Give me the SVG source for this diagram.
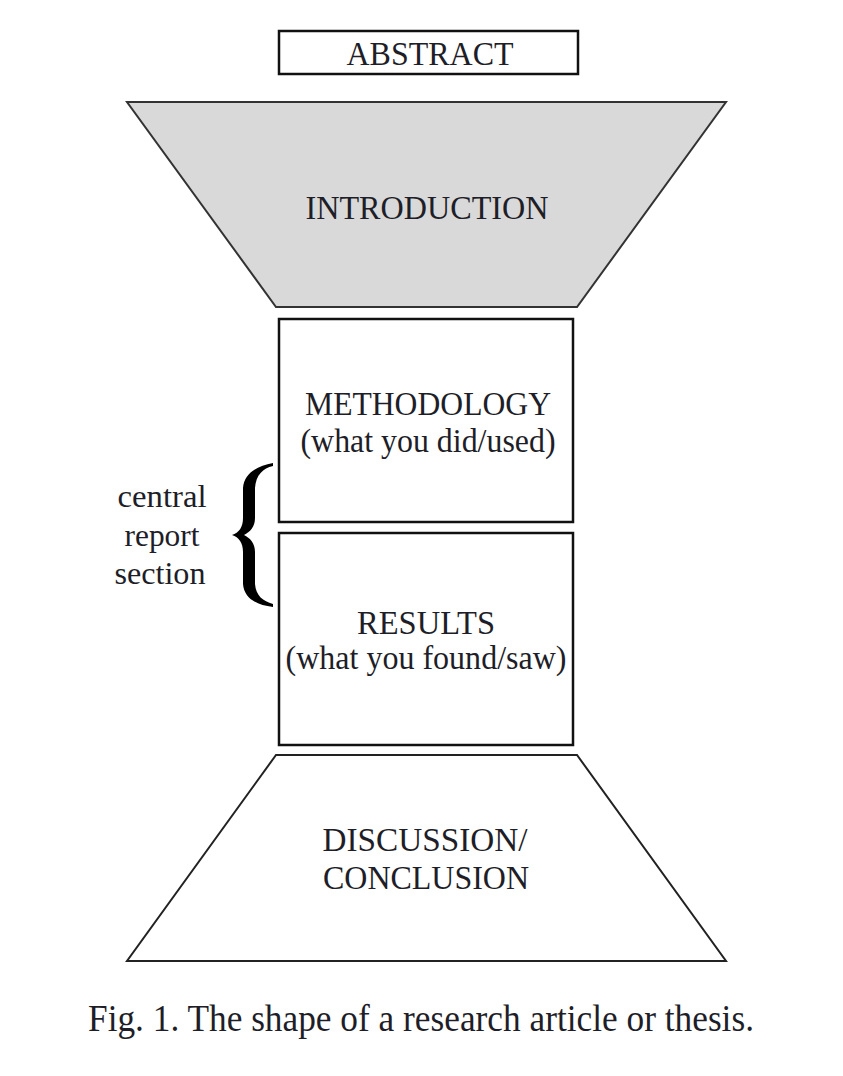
<svg xmlns="http://www.w3.org/2000/svg" width="843" height="1076" viewBox="0 0 843 1076">
<style>
.t{font-family:"Liberation Serif","Times New Roman",serif;font-size:34px;fill:#1e1e28;text-anchor:middle}
.s{font-family:"Liberation Serif","Times New Roman",serif;font-size:32px;fill:#1e1e28;text-anchor:middle}
.box{fill:#fff;stroke:#111;stroke-width:2.5}
</style>
<rect width="843" height="1076" fill="#fff"/>
<g id="abstract">
<rect class="box" x="279" y="31" width="299" height="43"/>
<text class="t" x="430" y="65" textLength="167" lengthAdjust="spacingAndGlyphs">ABSTRACT</text>
</g>
<g id="introduction">
<path d="M127,102 L726,102 L577,307 L276,307 Z" fill="#d9d9d9" stroke="#333" stroke-width="2"/>
<text class="t" x="427" y="219" textLength="243" lengthAdjust="spacingAndGlyphs">INTRODUCTION</text>
</g>
<g id="methodology">
<rect class="box" x="279" y="319" width="294" height="203"/>
<text class="t" x="428" y="415" textLength="246" lengthAdjust="spacingAndGlyphs">METHODOLOGY</text>
<text class="t" x="428" y="452" textLength="255" lengthAdjust="spacingAndGlyphs">(what you did/used)</text>
</g>
<g id="results">
<rect class="box" x="279" y="533" width="294" height="212"/>
<text class="t" x="426" y="634" textLength="138" lengthAdjust="spacingAndGlyphs">RESULTS</text>
<text class="t" x="426" y="669" textLength="281" lengthAdjust="spacingAndGlyphs">(what you found/saw)</text>
</g>
<g id="discussion">
<path d="M276,755 L577,755 L726,961 L127,961 Z" fill="#fff" stroke="#222" stroke-width="2"/>
<text class="t" x="425" y="851" textLength="205" lengthAdjust="spacingAndGlyphs">DISCUSSION/</text>
<text class="t" x="426" y="889" textLength="206" lengthAdjust="spacingAndGlyphs">CONCLUSION</text>
</g>
<g id="central-label">
<path d="M273,463 C256,466 244,474 243,488 L243,518 C243,527 239,533 232,535 C239,537 243,543 243,552 L243,584 C244,598 256,605 273,607 L273,604 C263,601 256,596 255,584 L255,552 C255,543 250,538 244,535 C250,532 255,527 255,518 L255,488 C256,475 263,468 273,466 Z" fill="#000"/>
<text class="s" x="162" y="507" textLength="89" lengthAdjust="spacingAndGlyphs">central</text>
<text class="s" x="162" y="546" textLength="75" lengthAdjust="spacingAndGlyphs">report</text>
<text class="s" x="160" y="584" textLength="91" lengthAdjust="spacingAndGlyphs">section</text>
</g>
<g id="connectors"></g>
<text x="421" y="1031" font-family="Liberation Serif, serif" font-size="37" fill="#1e1e28" text-anchor="middle" textLength="666" lengthAdjust="spacingAndGlyphs">Fig. 1. The shape of a research article or thesis.</text>
</svg>
